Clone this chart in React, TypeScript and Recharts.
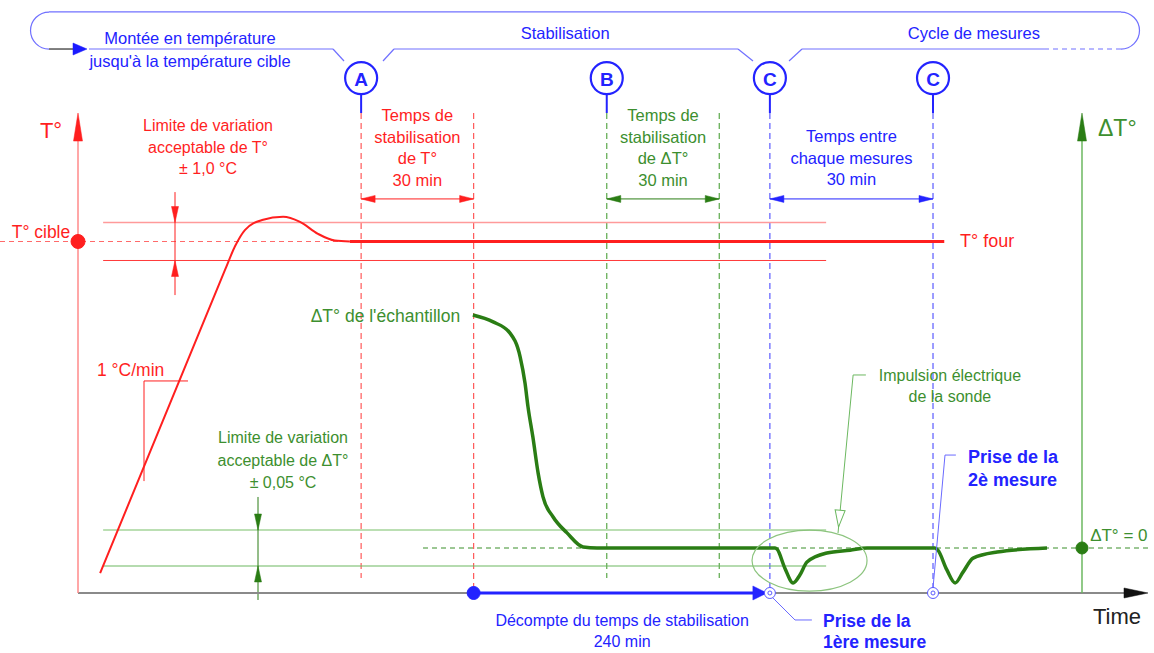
import React from 'react';
import { ComposedChart, Line, XAxis, YAxis, ReferenceLine, ReferenceDot } from 'recharts';

// schematic units: t in minutes, T in °C above start, dT in °C
const T_TARGET = 18.5;
const T_TOL = 1.0;
const DT_TOL = 0.05;

// event markers (A, end of T stab, B, end of dT stab, C, C)
const A = 75.5;
const A_END = 105.5;
const B = 141;
const B_END = 171;
const C1 = 184.5;
const C2 = 228;

const tempRise = [
  { t: 5.9, T: 1.05 },
  { t: 39.2, T: 17.0 },
  { t: 41.9, T: 18.26 },
  { t: 44.5, T: 19.1 },
  { t: 49.1, T: 19.63 },
  { t: 54.7, T: 19.8 },
  { t: 59.2, T: 19.53 },
  { t: 64.0, T: 18.9 },
  { t: 68.5, T: 18.55 },
  { t: 72.5, T: 18.5 },
];

const tempHold = [
  { t: 72.5, T: 18.5 },
  { t: 231, T: 18.5 },
];

const deltaCurve = [
  { t: 105.3, dT: 0.647 },
  { t: 110.7, dT: 0.628 },
  { t: 115.2, dT: 0.597 },
  { t: 117.9, dT: 0.531 },
  { t: 119.2, dT: 0.458 },
  { t: 120.0, dT: 0.392 },
  { t: 121.3, dT: 0.308 },
  { t: 122.7, dT: 0.208 },
  { t: 124.0, dT: 0.142 },
  { t: 126.7, dT: 0.086 },
  { t: 130.4, dT: 0.042 },
  { t: 134.7, dT: 0.003 },
  { t: 138.4, dT: 0 },
  { t: 185.9, dT: 0 },
  { t: 186.4, dT: -0.003 },
  { t: 188.5, dT: -0.056 },
  { t: 190.7, dT: -0.097 },
  { t: 192.5, dT: -0.075 },
  { t: 194.4, dT: -0.039 },
  { t: 199.7, dT: -0.014 },
  { t: 205.9, dT: -0.006 },
  { t: 210.4, dT: 0 },
  { t: 228.5, dT: 0 },
  { t: 229.3, dT: -0.006 },
  { t: 231.7, dT: -0.061 },
  { t: 233.9, dT: -0.097 },
  { t: 236.0, dT: -0.067 },
  { t: 238.7, dT: -0.028 },
  { t: 245.1, dT: -0.011 },
  { t: 258.4, dT: 0 },
];

const RED = '#ff1f1f';
const GREEN = '#3d8f2f';
const GREEN_CURVE = '#2a7d14';
const BLUE = '#2323ff';
const BLUE_LINE = '#5a5aff';
const FONT = '"Liberation Sans", Arial, sans-serif';

type Axis = 'T' | 'D';

const seg = (key: string, axis: Axis, x1: number, y1: number, x2: number, y2: number,
  stroke: string, width = 1, dash?: string) => (
  <ReferenceLine key={key} yAxisId={axis} segment={[{ x: x1, y: y1 }, { x: x2, y: y2 }]}
    stroke={stroke} strokeWidth={width} strokeDasharray={dash} ifOverflow="visible" />
);

const mark = (key: string, axis: Axis, x: number, y: number, draw: (cx: number, cy: number) => React.ReactNode) => (
  <ReferenceDot key={key} yAxisId={axis} x={x} y={y} r={1} ifOverflow="visible"
    shape={(p: any) => <g>{draw(p.cx, p.cy)}</g>} />
);

const label = (key: string, axis: Axis, x: number, y: number, lines: string[], color: string,
  size = 16, anchor: 'start' | 'middle' | 'end' = 'middle', lh = 21.5, weight = 'normal') =>
  mark(key, axis, x, y, (cx, cy) => (
    <text fill={color} fontSize={size} fontFamily={FONT} fontWeight={weight} textAnchor={anchor} dominantBaseline="central">
      {lines.map((s, i) => <tspan key={i} x={cx} y={cy + i * lh}>{s}</tspan>)}
    </text>
  ));

const arrow = (key: string, axis: Axis, x: number, y: number, angle: number, color: string,
  len = 14, hw = 3.5, open = false) =>
  mark(key, axis, x, y, (cx, cy) => (
    <polygon points={`${cx},${cy} ${cx - len},${cy - hw} ${cx - len},${cy + hw}`}
      transform={`rotate(${angle} ${cx} ${cy})`} fill={open ? '#fff' : color} stroke={color} strokeWidth={open ? 1 : 0.5} />
  ));

const bubble = (key: string, x: number, letter: string) =>
  mark(key, 'T', x, 27.1, (cx, cy) => (
    <g>
      <circle cx={cx} cy={cy} r={16} fill="#fff" stroke={BLUE} strokeWidth={2.2} />
      <text x={cx} y={cy + 1} fill={BLUE} fontSize={19} fontWeight="bold" fontFamily={FONT}
        textAnchor="middle" dominantBaseline="central">{letter}</text>
    </g>
  ));

const target = (key: string, x: number) =>
  mark(key, 'T', x, 0, (cx, cy) => (
    <g>
      <circle cx={cx} cy={cy} r={5.5} fill="#fff" stroke={BLUE_LINE} strokeWidth={1} />
      <circle cx={cx} cy={cy} r={2} fill="none" stroke={BLUE_LINE} strokeWidth={1} />
    </g>
  ));

export default function App() {
  return (
    <div style={{ position: 'absolute', left: 0, top: 0, width: 1154, height: 653, background: '#fff' }}>
      <ComposedChart width={1154} height={653} margin={{ top: 0, right: 0, bottom: 0, left: 0 }}
        style={{ fontFamily: FONT }}>
        <XAxis type="number" dataKey="t" domain={[-20.8, 286.93]} hide allowDataOverflow />
        <YAxis yAxisId="T" type="number" domain={[-3.158, 31.21]} hide allowDataOverflow />
        <YAxis yAxisId="D" type="number" domain={[-0.2917, 1.5222]} hide allowDataOverflow />

        {/* phase bracket */}
        {seg('br-top', 'T', -7.73, 30.58, 278.13, 30.58, '#7070ff', 1.2)}
        {mark('br-l', 'T', -7.73, 29.6, (cx, cy) => (
          <path d={`M${cx},${cy - 18.5} A18.5,18.5 0 0 0 ${cx},${cy + 18.5}`} fill="none" stroke="#7070ff" strokeWidth={1.2} />
        ))}
        {mark('br-r', 'T', 278.13, 29.6, (cx, cy) => (
          <path d={`M${cx},${cy - 18.5} A18.5,18.5 0 0 1 ${cx},${cy + 18.5}`} fill="none" stroke="#7070ff" strokeWidth={1.2} />
        ))}
        {seg('br-g', 'T', -7.73, 28.63, -1.33, 28.63, '#555', 1.5)}
        {arrow('br-a', 'T', 2.4, 28.63, 0, '#1a1aff', 14, 6)}
        {seg('br-1', 'T', 2.93, 28.63, 68.0, 28.63, '#7070ff', 1.2)}
        {seg('br-2', 'T', 68.0, 28.63, 70.93, 28.0, '#7070ff', 1.2)}
        {seg('br-3', 'T', 81.33, 28.0, 84.27, 28.63, '#7070ff', 1.2)}
        {seg('br-4', 'T', 84.27, 28.63, 176.0, 28.63, '#7070ff', 1.2)}
        {seg('br-5', 'T', 176.0, 28.63, 180.0, 28.0, '#7070ff', 1.2)}
        {seg('br-6', 'T', 189.6, 28.0, 193.07, 28.63, '#7070ff', 1.2)}
        {seg('br-7', 'T', 193.07, 28.63, 257.6, 28.63, '#7070ff', 1.2)}
        {seg('br-8', 'T', 257.6, 28.63, 278.13, 28.63, '#7070ff', 1.2, '5 4')}
        {label('ph-1', 'T', 29.87, 29.21, ['Montée en température'], BLUE, 16.5)}
        {label('ph-1b', 'T', 29.87, 28.0, ["jusqu'à la température cible"], BLUE, 16.5)}
        {label('ph-2', 'T', 129.9, 29.47, ['Stabilisation'], BLUE, 16.5)}
        {label('ph-3', 'T', 238.9, 29.47, ['Cycle de mesures'], BLUE, 16.5)}

        {/* event verticals */}
        {[A, B, C1, C2].map((x, i) => seg(`stem-${i}`, 'T', x, 26.26, x, 25.26, BLUE, 2))}
        {seg('v-a', 'T', A, 25.26, A, 0.79, '#ff5a5a', 1.2, '6 4')}
        {seg('v-ae', 'T', A_END, 25.26, A_END, 0, '#ff5a5a', 1.2, '6 4')}
        {seg('v-b', 'T', B, 25.26, B, 0.79, '#5aa84a', 1.2, '6 4')}
        {seg('v-be', 'T', B_END, 25.26, B_END, 0.79, '#5aa84a', 1.2, '6 4')}
        {seg('v-c1', 'T', C1, 25.26, C1, 0.26, BLUE_LINE, 1.2, '6 4')}
        {seg('v-c2', 'T', C2, 25.26, C2, 0.26, BLUE_LINE, 1.2, '6 4')}
        {bubble('bA', A, 'A')}
        {bubble('bB', B, 'B')}
        {bubble('bC1', C1, 'C')}
        {bubble('bC2', C2, 'C')}

        {/* duration dimensions */}
        {seg('d-r', 'T', A, 20.74, A_END, 20.74, RED, 1)}
        {arrow('d-r1', 'T', A, 20.74, 180, RED)}
        {arrow('d-r2', 'T', A_END, 20.74, 0, RED)}
        {seg('d-g', 'T', B, 20.74, B_END, 20.74, GREEN_CURVE, 1)}
        {arrow('d-g1', 'T', B, 20.74, 180, GREEN_CURVE)}
        {arrow('d-g2', 'T', B_END, 20.74, 0, GREEN_CURVE)}
        {seg('d-b', 'T', C1, 20.74, C2, 20.74, BLUE, 1)}
        {arrow('d-b1', 'T', C1, 20.74, 180, BLUE)}
        {arrow('d-b2', 'T', C2, 20.74, 0, BLUE)}
        {label('t-r', 'T', (A + A_END) / 2, 25.16, ['Temps de', 'stabilisation', 'de T°', '30 min'], RED, 16.5, 'middle', 21.7)}
        {label('t-g', 'T', (B + B_END) / 2, 25.16, ['Temps de', 'stabilisation', 'de ΔT°', '30 min'], GREEN, 16.5, 'middle', 21.7)}
        {label('t-b', 'T', (C1 + C2) / 2, 24.05, ['Temps entre', 'chaque mesures', '30 min'], BLUE, 16.5, 'middle', 21.7)}

        {/* temperature tolerances */}
        {seg('tol-u', 'T', 6.7, T_TARGET + T_TOL, 199.5, T_TARGET + T_TOL, '#ff9a9a', 1.3)}
        {seg('tol-l', 'T', 6.7, T_TARGET - T_TOL, 199.5, T_TARGET - T_TOL, '#ff3a3a', 1)}
        {seg('tgt', 'T', -20.8, T_TARGET, 71, T_TARGET, '#ff6a6a', 1.2, '5 4')}
        {seg('tol-d', 'T', 25.87, 21.1, 25.87, 15.68, RED, 1)}
        {arrow('tol-d1', 'T', 25.87, T_TARGET + T_TOL, 90, RED, 16, 3.5)}
        {arrow('tol-d2', 'T', 25.87, T_TARGET - T_TOL, -90, RED, 16, 3.5)}
        {label('tol-t', 'T', 34.67, 24.63, ['Limite de variation', 'acceptable de T°', '± 1,0 °C'], RED, 16, 'middle', 21.5)}
        {seg('sl-h', 'T', 17.6, 11.16, 29.33, 11.16, RED, 1)}
        {seg('sl-v', 'T', 17.6, 11.16, 17.6, 5.89, RED, 1)}
        {label('sl-t', 'T', 5.07, 11.74, ['1 °C/min'], RED, 17.5, 'start')}

        {/* delta tolerances */}
        {seg('dtol-u', 'D', 6.7, DT_TOL, 199.5, DT_TOL, '#a4d49a', 1.5)}
        {seg('dtol-l', 'D', 6.7, -DT_TOL, 199.5, -DT_TOL, '#6cb860', 1.2)}
        {seg('dzero', 'D', 92, 0, 285.9, 0, '#3a8f2a', 1.2, '5 4')}
        {seg('dtol-d', 'D', 48, 0.1417, 48, -0.1444, GREEN_CURVE, 1)}
        {arrow('dtol-d1', 'D', 48, DT_TOL, 90, GREEN_CURVE, 16, 3.5)}
        {arrow('dtol-d2', 'D', 48, -DT_TOL, -90, GREEN_CURVE, 16, 3.5)}
        {label('dtol-t', 'D', 54.67, 0.308, ['Limite de variation', 'acceptable de ΔT°', '± 0,05 °C'], GREEN, 16, 'middle', 22.5)}

        {/* axes */}
        {seg('ax-x', 'T', 0, 0, 284, 0, '#8a8a8a', 2)}
        {arrow('ax-xa', 'T', 285.33, 0, 0, '#111', 24, 5)}
        {seg('ax-y', 'T', 0, 0, 0, 24.5, '#ff8a8a', 1.5)}
        {arrow('ax-ya', 'T', 0, 25.26, -90, RED, 28, 4.5)}
        {seg('ax-d', 'T', 267.73, 0, 267.73, 24.5, '#6cb860', 1.5)}
        {arrow('ax-da', 'T', 267.73, 25.26, -90, GREEN_CURVE, 28, 4.5)}
        {label('ax-yt', 'T', -7.2, 24.37, ['T°'], RED, 22)}
        {label('ax-dt', 'T', 272, 24.47, ['ΔT°'], GREEN, 23, 'start')}
        {label('ax-xt', 'T', 277.07, -1.21, ['Time'], '#222', 22)}

        {/* curves */}
        <Line yAxisId="T" data={tempRise} dataKey="T" type="monotone" stroke={RED} strokeWidth={2}
          dot={false} activeDot={false} isAnimationActive={false} />
        <Line yAxisId="T" data={tempHold} dataKey="T" type="linear" stroke={RED} strokeWidth={3}
          dot={false} activeDot={false} isAnimationActive={false} />
        <Line yAxisId="D" data={deltaCurve} dataKey="dT" type="monotone" stroke={GREEN_CURVE} strokeWidth={3.5}
          dot={false} activeDot={false} isAnimationActive={false} />

        {/* dots and curve labels */}
        <ReferenceDot yAxisId="T" x={0} y={T_TARGET} r={7} fill={RED} stroke={RED} ifOverflow="visible" />
        <ReferenceDot yAxisId="D" x={267.73} y={0} r={6} fill={GREEN_CURVE} stroke={GREEN_CURVE} ifOverflow="visible" />
        {label('tc', 'T', -9.87, 19.0, ['T° cible'], RED, 17.5)}
        {label('tf', 'T', 235.2, T_TARGET, ['T° four'], RED, 18, 'start')}
        {label('dlab', 'D', 101.9, 0.644, ["ΔT° de l'échantillon"], GREEN, 17.5, 'end')}
        {label('d0', 'D', 269.9, 0.036, ['ΔT° = 0'], GREEN, 17, 'start')}

        {/* probe pulse callout */}
        {mark('ell', 'D', 195.07, -0.035, (cx, cy) => (
          <ellipse cx={cx} cy={cy} rx={57.5} ry={30.5} fill="none" stroke="#8cc47e" strokeWidth={1.2} />
        ))}
        {seg('imp-h', 'D', 206.7, 0.4806, 210.1, 0.4806, '#6cb860', 1)}
        {seg('imp-l', 'D', 206.7, 0.4806, 202.67, 0.0417, '#6cb860', 1)}
        {arrow('imp-a', 'D', 202.8, 0.058, 95.4, '#6cb860', 17, 5, true)}
        {label('imp-t', 'D', 232.5, 0.4806, ['Impulsion électrique', 'de la sonde'], GREEN, 16, 'middle', 21)}

        {/* countdown */}
        {seg('cd', 'T', A_END, 0, 183, 0, BLUE, 3)}
        {arrow('cd-a', 'T', 183.7, 0, 0, BLUE, 14, 7)}
        <ReferenceDot yAxisId="T" x={A_END} y={0} r={6.5} fill={BLUE} stroke={BLUE} ifOverflow="visible" />
        {label('cd-t', 'T', 145.1, -1.42, ['Décompte du temps de stabilisation', '240 min'], BLUE, 16, 'middle', 21)}

        {/* measurements */}
        {target('m1', C1)}
        {target('m2', C2)}
        {seg('p1-a', 'T', 184.8, -0.16, 191.2, -1.42, '#6a6aff', 1)}
        {seg('p1-b', 'T', 191.2, -1.42, 195.7, -1.42, '#6a6aff', 1)}
        {label('p1-t', 'T', 198.67, -1.45, ['Prise de la', '1ère mesure'], BLUE, 17.5, 'start', 21.5, 'bold')}
        {seg('p2-a', 'T', C2, 0.26, 231.2, 7.26, '#6a6aff', 1)}
        {seg('p2-b', 'T', 231.2, 7.26, 234.1, 7.26, '#6a6aff', 1)}
        {label('p2-t', 'T', 237.3, 7.16, ['Prise de la', '2è mesure'], BLUE, 18, 'start', 23, 'bold')}
      </ComposedChart>
    </div>
  );
}
